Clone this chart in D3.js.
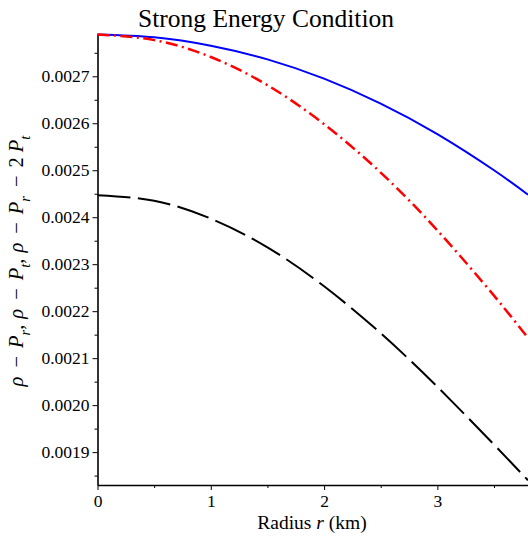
<!DOCTYPE html>
<html><head><meta charset="utf-8">
<script src="https://cdn.jsdelivr.net/npm/d3@7"></script>
<style>body{margin:0;background:#fff}svg{display:block}
svg text{font-family:'Liberation Serif','Times New Roman',serif}</style>
</head><body>
<svg id="c" width="528" height="536"></svg>
<script>
const radius = [0, 0.5, 1, 1.5, 2, 2.5, 3, 3.5, 3.8];
const seriesRhoMinusPr = [0.002789, 0.002783, 0.002765, 0.002736, 0.002695, 0.002642, 0.002577, 0.002500, 0.002448];
const seriesRhoMinusPt = [0.002789, 0.002777, 0.002741, 0.002681, 0.002598, 0.002495, 0.002372, 0.002233, 0.002143];
const seriesRhoMinusPrMinus2Pt = [0.002447, 0.002435, 0.002397, 0.002336, 0.002253, 0.002153, 0.002039, 0.001916, 0.001840];
const xMajorTicks = [0, 1, 2, 3];
const xMinorTicks = [0.5, 1.5, 2.5, 3.5];
const yMajorTicks = [0.0019, 0.0020, 0.0021, 0.0022, 0.0023, 0.0024, 0.0025, 0.0026, 0.0027];
const yMinorTicks = [0.00185, 0.00195, 0.00205, 0.00215, 0.00225, 0.00235, 0.00245, 0.00255, 0.00265, 0.00275];

const svg = d3.select("#c");
const L = 97.5, R = 528, T = 34, B = 485;
const x = d3.scaleLinear().domain([0, 3.8]).range([L, R]);
const y = d3.scaleLinear().domain([0.00183, 0.00279]).range([B, T]);
const serif = "'Liberation Serif','Times New Roman',serif";

// axes
const xAx = svg.append("g").attr("transform", `translate(0,${B})`)
  .call(d3.axisBottom(x).tickValues(xMajorTicks).tickFormat(d3.format("d")).tickSize(5).tickSizeOuter(0));
svg.append("g").attr("transform", `translate(0,${B})`)
  .call(d3.axisBottom(x).tickValues(xMinorTicks).tickFormat("").tickSize(3).tickSizeOuter(0))
  .select(".domain").remove();
const yAx = svg.append("g").attr("transform", `translate(${L},0)`)
  .call(d3.axisLeft(y).tickValues(yMajorTicks).tickFormat(d3.format(".4f")).tickSize(5).tickSizeOuter(0));
svg.append("g").attr("transform", `translate(${L},0)`)
  .call(d3.axisLeft(y).tickValues(yMinorTicks).tickFormat("").tickSize(3).tickSizeOuter(0))
  .select(".domain").remove();
svg.selectAll("g").attr("font-family", serif);
svg.selectAll(".domain").attr("stroke", "#000").attr("stroke-width", 1.6);
svg.selectAll(".tick line").attr("stroke", "#000").attr("stroke-width", 1);
svg.selectAll(".tick text").style("font-family", serif).style("font-size", "17.5px").attr("fill", "#000");
xAx.selectAll(".tick text").attr("dy", "0.71em").attr("y", 10);
yAx.selectAll(".tick text").attr("x", -8);

// lines
const mk = vals => radius.map((r, i) => [r, vals[i]]);
const line = d3.line().x(d => x(d[0])).y(d => y(d[1])).curve(d3.curveNatural);
const plot = svg.append("g");
plot.append("path").datum(mk(seriesRhoMinusPr)).attr("d", line)
  .attr("fill", "none").attr("stroke", "#0000ff").attr("stroke-width", 2);
plot.append("path").datum(mk(seriesRhoMinusPt)).attr("d", line)
  .attr("fill", "none").attr("stroke", "#ff0000").attr("stroke-width", 2.5)
  .attr("stroke-dasharray", "12,4.5,2,4.5");
plot.append("path").datum(mk(seriesRhoMinusPrMinus2Pt)).attr("d", line)
  .attr("fill", "none").attr("stroke", "#000").attr("stroke-width", 2)
  .attr("stroke-dasharray", "33,7.5");

// title
svg.append("text").attr("x", 266).attr("y", 27).attr("text-anchor", "middle")
  .style("font-family", serif).style("font-size", "25.5px").text("Strong Energy Condition");

// x label
const xl = svg.append("text").attr("x", 312).attr("y", 529).attr("text-anchor", "middle")
  .style("font-family", serif).style("font-size", "19.5px");
xl.append("tspan").text("Radius ");
xl.append("tspan").attr("font-style", "italic").text("r");
xl.append("tspan").text(" (km)");

// y label: [text, kind, dx]
const yl = svg.append("text").attr("transform", "translate(23,261) rotate(-90)")
  .attr("text-anchor", "middle").style("font-family", serif).style("font-size", "20.5px");
const parts = [["ρ", "i", 0], ["−", "n", 9], ["P", "i", 8], ["r", "s", 0], [",", "n", 0], ["ρ", "i", 6],
  ["−", "n", 9], ["P", "i", 8], ["t", "s", 0], [",", "n", 0], ["ρ", "i", 6],
  ["−", "n", 9], ["P", "i", 8], ["r", "s", 0], ["−", "n", 9], ["2", "n", 8], ["P", "i", 5], ["t", "s", 0]];
let sub = false;
parts.forEach(([t, k, dx]) => {
  const ts = yl.append("tspan").text(t).attr("dx", dx);
  if (k !== "n") ts.attr("font-style", "italic");
  if (k === "s") { ts.style("font-size", "14.5px").attr("dy", 7); sub = true; }
  else if (sub) { ts.attr("dy", -7); sub = false; }
});
</script>
</body></html>
